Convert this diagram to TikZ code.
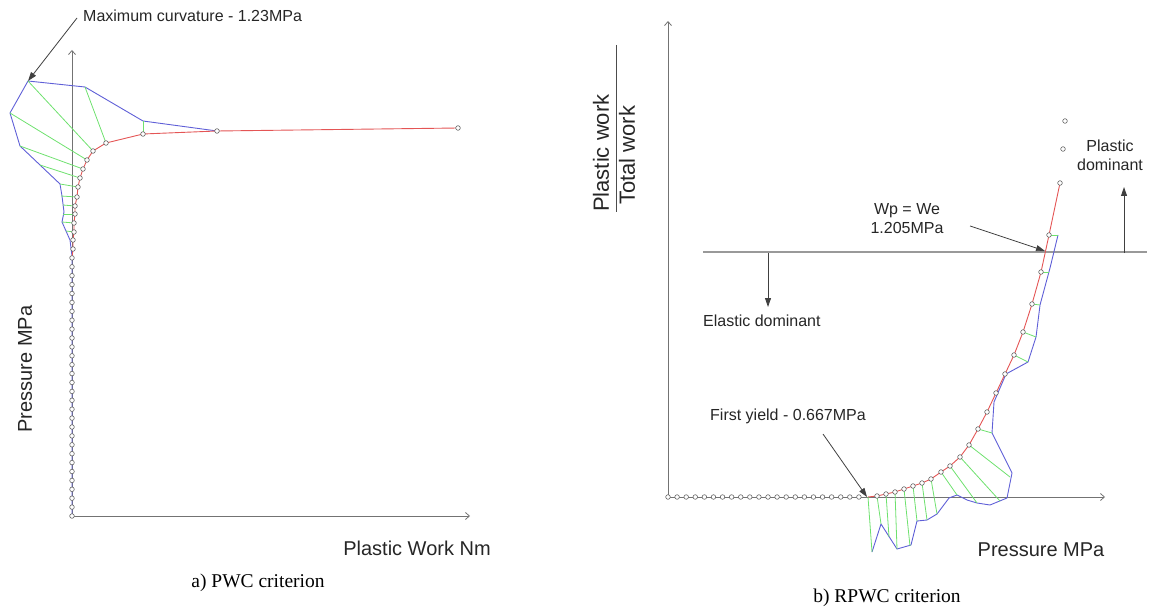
\documentclass[tikz,border=0pt]{standalone}
\usepackage{fontspec}
\setmainfont{Liberation Sans}
\newfontfamily\capfont{Liberation Serif}
\usetikzlibrary{arrows.meta}
\definecolor{envblue}{RGB}{95,95,215}
\definecolor{curvered}{RGB}{228,85,85}
\definecolor{hatchgreen}{RGB}{110,225,110}
\begin{document}
\begin{tikzpicture}[x=1pt,y=-1pt,
	axisline/.style={draw=black!55,line width=0.8pt,-{Straight Barb[length=4pt,width=7pt]}},
	envelope/.style={draw=envblue,line width=0.9pt,line join=round},
	plotcurve/.style={draw=curvered,line width=0.9pt,line join=round},
	hatch/.style={draw=hatchgreen,line width=0.8pt},
	datapt/.style={draw=black!60,fill=white,line width=0.6pt},
	annarrow/.style={draw=black!75,line width=0.8pt,-{Triangle[length=9pt,width=6pt]}},
	lbl/.style={font=\fontsize{16}{19}\selectfont,text=black!85,inner sep=0pt},
	axlbl/.style={font=\fontsize{20}{24}\selectfont,text=black!85,inner sep=0pt},
	fraclbl/.style={font=\fontsize{22}{26}\selectfont,text=black!85,inner sep=0pt},
	captext/.style={font=\capfont\fontsize{19.5}{23}\selectfont,inner sep=0pt}]
			\useasboundingbox (0,0) rectangle (1150,612);
			% a) PWC criterion
			\draw[axisline] (72,516) -- (72,50);
			\draw[axisline] (72,516) -- (470,516);
			\draw[envelope] (72,516) -- (72,256) -- (70,240) -- (62,222) -- (64,212) -- (62,196) -- (60,184) -- (20,146) -- (10,113) -- (28,81) -- (85,87) -- (143,121) -- (217,131);
			\draw[plotcurve] (72,258) -- (73,249) -- (73,240) -- (74,232) -- (74,223) -- (75,214) -- (75,206) -- (77,197) -- (78,187) -- (80,178) -- (83,169) -- (87,160) -- (93,151) -- (106,143) -- (143,134) -- (217,131) -- (458,128);
			\foreach \xa/\ya/\xb/\yb in {143/121/143/134, 85/87/106/143, 28/81/93/151, 10/113/87/160, 20/146/83/169, 40/165/80/178, 60/184/78/187, 61/196/77/197, 63/205/75/206, 63/214/75/214, 62/222/74/223, 66/231/74/232}
				\draw[hatch] (\xa,\ya) -- (\xb,\yb);
			\foreach \k in {0,...,29}
				\draw[datapt] (72,{516-8.9*\k}) circle (2.3pt);
			\foreach \p in {(73,249),(73,240),(74,232),(74,223),(75,214),(75,206),(77,197),(78,187),(80,178),(83,169),(87,160),(93,151),(106,143),(143,134),(217,131),(458,128)}
				\draw[datapt] \p circle (2.3pt);
			\coordinate (maxpt) at (28,81);
			\coordinate (maxfrom) at (77,18);
			\node[lbl,anchor=west] (maxcurv) at (83,16) {Maximum curvature - 1.23MPa};
			\draw[annarrow] (maxfrom) -- (maxpt);
			\node[axlbl,rotate=90] (pwcy) at (25,369) {Pressure MPa};
			\node[axlbl] (pwcx) at (417,548) {Plastic Work Nm};
			\node[captext] (capa) at (258,583) {a) PWC criterion};
			% b) RPWC criterion
			\draw[axisline] (668,497) -- (668,21);
			\draw[axisline] (668,497) -- (1105,497);
			\draw[draw=black!40,line width=1.6pt] (703,252) -- (1147,252);
			\draw[envelope] (872,552) -- (881,524) -- (897,549) -- (911,545) -- (917,521) -- (927,520) -- (937,514) -- (949,498) -- (957,495) -- (967,500) -- (977,503) -- (990,505) -- (1007,498) -- (1012,473) -- (992,433) -- (994,402) -- (1006,374) -- (1028,362) -- (1036,337) -- (1040,305) -- (1050,268) -- (1058,235);
			\draw[plotcurve] (868,497) -- (877,496) -- (886,494) -- (895,492) -- (904,489) -- (913,486) -- (922,483) -- (931,479) -- (941,472) -- (950,466) -- (960,457) -- (969,445) -- (978,429) -- (987,412) -- (996,393) -- (1005,374) -- (1014,355) -- (1023,332) -- (1032,304) -- (1041,272) -- (1049,235) -- (1060,183);
			\foreach \xa/\ya/\xb/\yb in {868/497/872/552, 877/496/881/524, 886/494/889/537, 895/492/897/549, 904/489/910/546, 913/486/917/521, 922/483/927/520, 931/479/937/514, 941/472/957/495, 950/466/977/503, 960/457/1000/501, 969/445/1010/477, 978/429/992/433, 1014/355/1028/362, 1023/332/1036/337, 1032/304/1040/305, 1041/272/1049/272, 1049/235/1058/235}
				\draw[hatch] (\xa,\ya) -- (\xb,\yb);
			\foreach \k in {0,...,21}
				\draw[datapt] ({668+9.09*\k},497) circle (2.3pt);
			\foreach \p in {(877,496),(886,494),(895,492),(904,489),(913,486),(922,483),(931,479),(941,472),(950,466),(960,457),(969,445),(978,429),(987,412),(996,393),(1005,374),(1014,355),(1023,332),(1032,304),(1041,272),(1049,235),(1060,183),(1063,149),(1065,121)}
				\draw[datapt] \p circle (2.3pt);
			\node[lbl,align=center] (wpwe) at (907,219) {Wp = We\\1.205MPa};
			\coordinate (wpfrom) at (970,226);
			\coordinate (wppt) at (1045,251);
			\draw[annarrow] (wpfrom) -- (wppt);
			\node[lbl,align=center] (plastdom) at (1110,155) {Plastic\\dominant};
			\coordinate (upfrom) at (1124,253);
			\coordinate (upto) at (1124,187);
			\draw[annarrow] (upfrom) -- (upto);
			\node[lbl,anchor=west] (elastdom) at (703,321) {Elastic dominant};
			\coordinate (downfrom) at (768,253);
			\coordinate (downto) at (768,307);
			\draw[annarrow] (downfrom) -- (downto);
			\node[lbl,anchor=east] (firsty) at (866,416) {First yield - 0.667MPa};
			\coordinate (yieldfrom) at (823,434);
			\coordinate (yieldpt) at (867,497);
			\draw[annarrow] (yieldfrom) -- (yieldpt);
			\draw[black!70,line width=0.8pt] (616,45) -- (616,212);
			\node[fraclbl,rotate=90,anchor=west] (plw) at (601,212) {Plastic work};
			\node[fraclbl,rotate=90,anchor=west] (tw) at (627,205) {Total work};
			\node[axlbl] (rpwcx) at (1041,550) {Pressure MPa};
			\node[captext] (capb) at (887,598) {b) RPWC criterion};
		\end{tikzpicture}
\end{document}
